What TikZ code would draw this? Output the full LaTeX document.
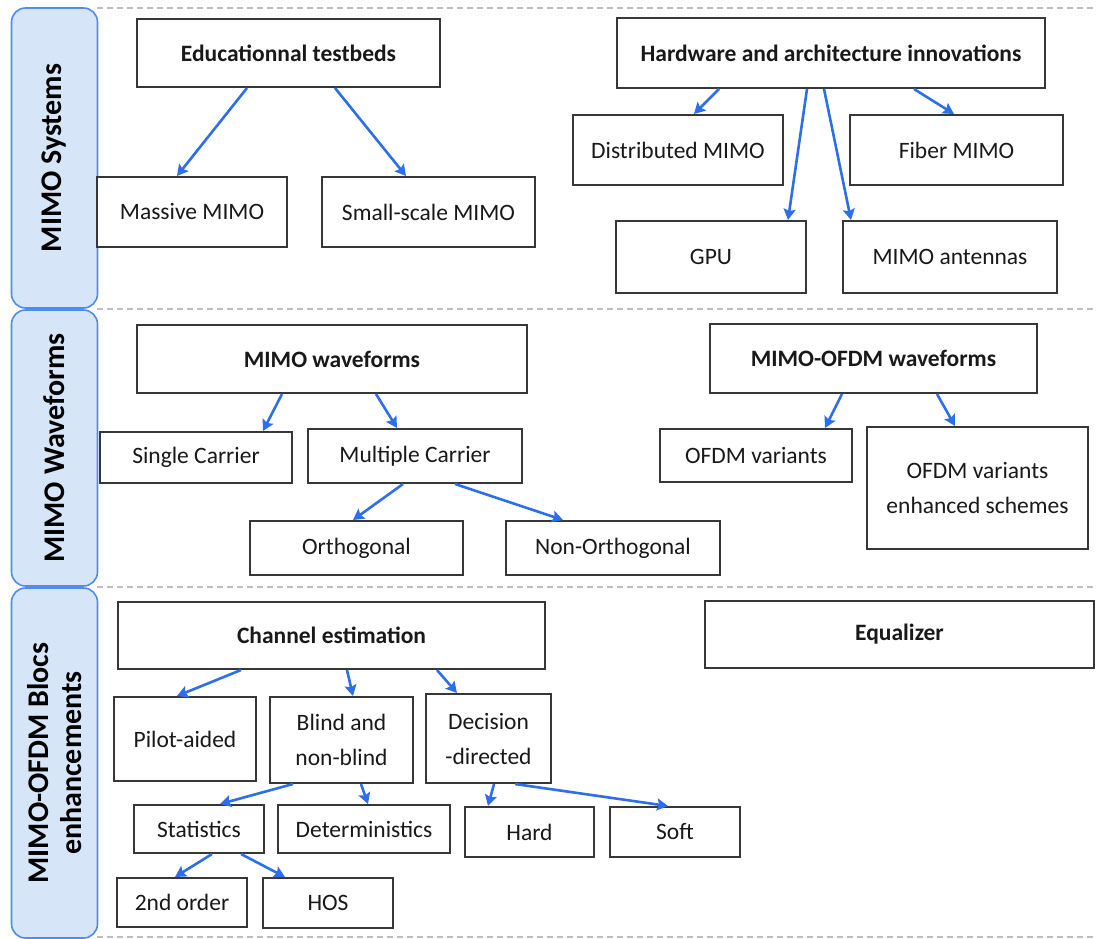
\documentclass[tikz,border=0pt]{standalone}
\usepackage{fontspec}
\setmainfont{Carlito}
\usetikzlibrary{arrows.meta,calc}
\definecolor{panelfill}{RGB}{214,229,248}
\definecolor{paneldraw}{RGB}{80,140,235}
\definecolor{arrowblue}{RGB}{45,110,235}
\definecolor{boxdraw}{RGB}{55,55,55}
\definecolor{sepgray}{RGB}{190,190,190}
\tikzset{
  box/.style={draw=boxdraw, line width=2pt, fill=white, inner sep=0pt, align=center,
    font=\fontsize{23.5}{35}\selectfont, text=black!90},
  bbox/.style={box, font=\fontsize{23.5}{35}\selectfont\bfseries},
  panel/.style={draw=paneldraw, line width=1.6pt, fill=panelfill, rounded corners=14pt,
    rotate=90, inner sep=0pt, align=center, font=\fontsize{30}{33}\selectfont\bfseries},
  conn/.style={draw=arrowblue, line width=2.6pt, -{Stealth[length=11pt,width=12pt,inset=2pt]}},
  sep/.style={draw=sepgray, line width=1.4pt, dash pattern=on 6pt off 4pt}
}
\begin{document}
\begin{tikzpicture}[x=1pt,y=-1pt]
\useasboundingbox (0,0) rectangle (1097,939);
% separators
\coordinate (s1a) at (97,8);   \coordinate (s1b) at (1097,8);
\coordinate (s2a) at (97,309); \coordinate (s2b) at (1097,309);
\coordinate (s3a) at (97,587); \coordinate (s3b) at (1097,587);
\coordinate (s4a) at (97,937); \coordinate (s4b) at (1097,937);
\draw[sep] (s1a) -- (s1b);
\draw[sep] (s2a) -- (s2b);
\draw[sep] (s3a) -- (s3b);
\draw[sep] (s4a) -- (s4b);
% panels
\node[panel, minimum width=300, minimum height=86] (p1) at (54.5,158) {MIMO Systems};
\node[panel, minimum width=276, minimum height=86] (p2) at (54.5,448) {MIMO Waveforms};
\node[panel, minimum width=350, minimum height=86] (p3) at (54.5,763) {MIMO-OFDM Blocs\\enhancements};
% panel 1
\node[bbox, minimum width=303, minimum height=68] (edu) at (288.5,53) {Educationnal testbeds};
\node[bbox, minimum width=428, minimum height=70] (hw) at (831,53) {Hardware and architecture innovations};
\node[box, minimum width=190, minimum height=70] (massive) at (192,212) {Massive MIMO};
\node[box, minimum width=213, minimum height=70] (small) at (428.5,212) {Small-scale MIMO};
\node[box, minimum width=210, minimum height=70] (dist) at (678,150) {Distributed MIMO};
\node[box, minimum width=213, minimum height=70] (fiber) at (956.5,150) {Fiber MIMO};
\node[box, minimum width=190, minimum height=72] (gpu) at (711,257) {GPU};
\node[box, minimum width=214, minimum height=72] (ant) at (950,257) {MIMO antennas};
% panel 2
\node[bbox, minimum width=390, minimum height=68] (mw) at (332,359) {MIMO waveforms};
\node[bbox, minimum width=327, minimum height=69] (mow) at (873.5,358.5) {MIMO-OFDM waveforms};
\node[box, minimum width=192, minimum height=51] (single) at (196,457.5) {Single Carrier};
\node[box, minimum width=214, minimum height=54] (multi) at (415,456) {Multiple Carrier};
\node[box, minimum width=213, minimum height=54] (orth) at (356.5,548) {Orthogonal};
\node[box, minimum width=214, minimum height=54] (nonorth) at (613,548) {Non-Orthogonal};
\node[box, minimum width=192, minimum height=53] (ofdmv) at (756,455.5) {OFDM variants};
\node[box, minimum width=221, minimum height=122] (enh) at (977.5,488) {OFDM variants\\enhanced schemes};
% panel 3
\node[bbox, minimum width=427, minimum height=67] (ce) at (331.5,635.5) {Channel estimation};
\node[bbox, minimum width=389, minimum height=67] (eq) at (899.5,634.5) {Equalizer};
\node[box, minimum width=142, minimum height=84] (pilot) at (185,739) {Pilot-aided};
\node[box, minimum width=143, minimum height=86] (blind) at (341.5,740) {Blind and\\non-blind};
\node[box, minimum width=125, minimum height=89] (dec) at (488.5,738.5) {Decision\\-directed};
\node[box, minimum width=130, minimum height=48] (stat) at (199,829) {Statistics};
\node[box, minimum width=172, minimum height=48] (det) at (364,829) {Deterministics};
\node[box, minimum width=129, minimum height=50] (hard) at (529.5,832) {Hard};
\node[box, minimum width=130, minimum height=50] (soft) at (675,832) {Soft};
\node[box, minimum width=130, minimum height=49] (second) at (182,902.5) {2nd order};
\node[box, minimum width=130, minimum height=50] (hos) at (328,903) {HOS};
% connectors
\draw[conn] ([xshift=-41.5]edu.south) -- ([xshift=-15]massive.north);
\draw[conn] ([xshift=46.5]edu.south) -- ([xshift=-22.5]small.north);
\draw[conn] ([xshift=-112]hw.south) -- ([xshift=16]dist.north);
\draw[conn] ([xshift=-24]hw.south) -- ([xshift=77]gpu.north);
\draw[conn] ([xshift=-7]hw.south) -- ([xshift=-99]ant.north);
\draw[conn] ([xshift=83]hw.south) -- ([xshift=-2.5]fiber.north);
\draw[conn] ([xshift=-50]mw.south) -- ([xshift=67]single.north);
\draw[conn] ([xshift=44]mw.south) -- ([xshift=-18]multi.north);
\draw[conn] ([xshift=-12]multi.south) -- ([xshift=-3.5]orth.north);
\draw[conn] ([xshift=40]multi.south) -- ([xshift=-50]nonorth.north);
\draw[conn] ([xshift=-31.5]mow.south) -- ([xshift=69]ofdmv.north);
\draw[conn] ([xshift=63.5]mow.south) -- ([xshift=-22.5]enh.north);
\draw[conn] ([xshift=-90.5]ce.south) -- ([xshift=-8]pilot.north);
\draw[conn] ([xshift=15.5]ce.south) -- ([xshift=11.5]blind.north);
\draw[conn] ([xshift=105.5]ce.south) -- ([xshift=-31.5]dec.north);
\draw[conn] ([xshift=-48.5]blind.south) -- ([xshift=21]stat.north);
\draw[conn] ([xshift=19.5]blind.south) -- ([xshift=4]det.north);
\draw[conn] ([xshift=5.5]dec.south) -- ([xshift=-41.5]hard.north);
\draw[conn] ([xshift=26.5]dec.south) -- ([xshift=-7]soft.north);
\draw[conn] ([xshift=13]stat.south) -- ([xshift=-7]second.north);
\draw[conn] ([xshift=42]stat.south) -- ([xshift=-43]hos.north);
\end{tikzpicture}
\end{document}
